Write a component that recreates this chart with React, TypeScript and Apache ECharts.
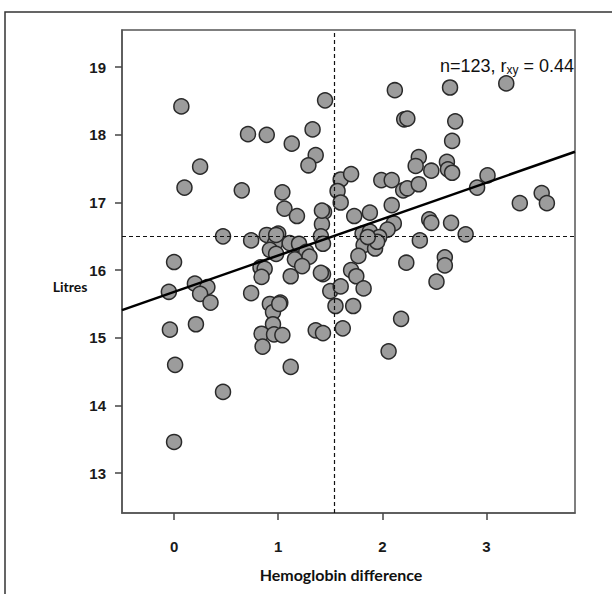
import React, { useEffect, useRef } from "react";
import * as echarts from "echarts";

const hemoglobinDiff = [
  0.07, 1.45, 0.71, 0.89, 1.13, 1.33, 1.36, 1.29, 0.25, 0.1,
  0.65, 1.04, 1.6, 1.57, 1.6, 1.7, 2.12, 2.65, 3.19, 2.21,
  2.24, 2.7, 2.67, 2.35, 2.32, 2.47, 2.62, 2.63, 2.67, 3.01,
  2.91, 1.99, 2.09, 2.2, 2.24, 2.35, 3.53, 3.58, 3.32, 1.06,
  1.18, 1.44, 1.42, 1.41, 1.43, 0.47, 0.74, 0.89, 1.0, 0.97,
  0.92, 0.98, 1.11, 1.2, 1.27, 1.3, 1.16, 1.23, 0.0, 0.83,
  0.87, 0.84, 1.12, 1.43, -0.05, 0.2, 0.32, 0.25, 0.35, 0.74,
  0.92, 1.02, 0.95, 0.95, 0.84, 0.96, 1.04, 0.85, 1.12, -0.04,
  0.21, 1.36, 1.43, 1.5, 1.6, 1.55, 1.62, 0.01, 0.47, 0.0,
  1.73, 1.88, 2.09, 2.11, 2.05, 1.81, 1.88, 1.92, 1.97, 1.82,
  1.93, 1.77, 1.7, 1.75, 1.82, 1.72, 2.18, 2.06, 2.23, 2.36,
  2.45, 2.47, 2.66, 2.8, 2.6, 2.6, 2.52, 1.41, 1.42, 1.95,
  1.86, 0.98, 1.01,
];

const litres = [
  18.42, 18.51, 18.01, 18.0, 17.87, 18.08, 17.7, 17.55, 17.53, 17.22,
  17.18, 17.15, 17.34, 17.17, 17.0, 17.42, 18.66, 18.7, 18.76, 18.23,
  18.24, 18.2, 17.91, 17.67, 17.54, 17.47, 17.6, 17.49, 17.44, 17.4,
  17.22, 17.33, 17.33, 17.18, 17.21, 17.27, 17.14, 16.99, 16.99, 16.91,
  16.8, 16.86, 16.68, 16.5, 16.39, 16.5, 16.44, 16.52, 16.54, 16.4,
  16.3, 16.24, 16.4, 16.39, 16.27, 16.2, 16.16, 16.06, 16.12, 16.04,
  16.02, 15.9, 15.91, 15.94, 15.68, 15.8, 15.75, 15.65, 15.52, 15.66,
  15.5, 15.52, 15.38, 15.2, 15.06, 15.05, 15.04, 14.87, 14.57, 15.12,
  15.2, 15.11, 15.07, 15.69, 15.76, 15.47, 15.14, 14.6, 14.2, 13.46,
  16.8, 16.85, 16.96, 16.69, 16.6, 16.54, 16.57, 16.45, 16.49, 16.37,
  16.32, 16.21, 16.0, 15.91, 15.73, 15.47, 15.28, 14.8, 16.11, 16.44,
  16.75, 16.7, 16.7, 16.53, 16.19, 16.07, 15.83, 15.96, 16.88, 16.42,
  16.49, 16.52, 15.5,
];

const xTicks = [0, 1, 2, 3];
const yTicks = [13, 14, 15, 16, 17, 18, 19];
const meanX = 1.54;
const meanY = 16.5;
const fitX = [-0.5, 3.85];
const fitY = [15.41, 17.75];
const xName = "Hemoglobin difference";
const yName = "Litres";
const annotation = "{a|n=123, r}{b|xy}{a| = 0.44}";

export default function App() {
  const ref = useRef<HTMLDivElement>(null);

  useEffect(() => {
    const chart = echarts.init(ref.current!, null, { renderer: "svg" });
    const points = hemoglobinDiff.map((x, i) => [x, litres[i]]);
    const fit = fitX.map((x, i) => [x, fitY[i]]);
    const tickFont = {
      fontFamily: "Liberation Sans",
      fontSize: 15,
      fontWeight: "bold",
      color: "#1a1a1a",
    };
    chart.setOption({
      animation: false,
      backgroundColor: "#fff",
      grid: {
        left: 122,
        right: 37,
        top: 30,
        bottom: 81,
        show: true,
        borderColor: "#555",
        borderWidth: 1.5,
        containLabel: false,
      },
      xAxis: {
        type: "value",
        min: -0.5,
        max: 3.85,
        axisLine: {
          show: true,
          onZero: false,
          lineStyle: { color: "#555", width: 1.5 },
        },
        axisTick: {
          show: true,
          customValues: xTicks,
          length: 7,
          lineStyle: { color: "#444", width: 1.5 },
        },
        axisLabel: { customValues: xTicks, margin: 26, ...tickFont },
        splitLine: { show: false },
      },
      yAxis: {
        type: "value",
        min: 12.41,
        max: 19.55,
        axisLine: {
          show: true,
          onZero: false,
          lineStyle: { color: "#555", width: 1.5 },
        },
        axisTick: {
          show: true,
          customValues: yTicks,
          length: 7,
          lineStyle: { color: "#444", width: 1.5 },
        },
        axisLabel: { customValues: yTicks, margin: 16, ...tickFont },
        splitLine: { show: false },
      },
      series: [
        {
          type: "scatter",
          data: points,
          symbol: "circle",
          symbolSize: 15,
          itemStyle: {
            color: "#9c9c9c",
            borderColor: "#2a2a2a",
            borderWidth: 1.5,
            opacity: 1,
          },
          z: 2,
        },
        {
          type: "line",
          data: fit,
          showSymbol: false,
          symbol: "none",
          lineStyle: { color: "#000", width: 2.5 },
          z: 4,
          markLine: {
            silent: true,
            symbol: ["none", "none"],
            label: { show: false },
            lineStyle: { type: [4, 3], color: "#111", width: 1.2 },
            data: [{ xAxis: meanX }, { yAxis: meanY }],
          },
        },
      ],
      graphic: [
        {
          type: "rect",
          shape: { x: 5, y: 12, width: 700, height: 700 },
          style: { fill: "none", stroke: "#333", lineWidth: 1.5 },
          z: 10,
        },
        {
          type: "text",
          x: 70,
          y: 286,
          style: {
            text: yName,
            fontFamily: "Lato",
            fontWeight: "bold",
            fontSize: 14,
            fill: "#111",
            align: "center",
            verticalAlign: "middle",
          },
        },
        {
          type: "text",
          x: 341,
          y: 574,
          style: {
            text: xName,
            fontFamily: "Lato",
            fontWeight: "bold",
            fontSize: 16,
            fill: "#111",
            align: "center",
            verticalAlign: "middle",
          },
        },
        {
          type: "text",
          x: 440,
          y: 66,
          style: {
            text: annotation,
            align: "left",
            verticalAlign: "middle",
            rich: {
              a: {
                fontFamily: "Liberation Sans",
                fontSize: 18,
                lineHeight: 20,
                fill: "#111",
              },
              b: {
                fontFamily: "Liberation Sans",
                fontSize: 12,
                lineHeight: 8,
                verticalAlign: "bottom",
                fill: "#111",
              },
            },
          },
        },
      ],
    });
    return () => chart.dispose();
  }, []);

  return (
    <div
      ref={ref}
      style={{ position: "fixed", left: 0, top: 0, width: 612, height: 594 }}
    />
  );
}
